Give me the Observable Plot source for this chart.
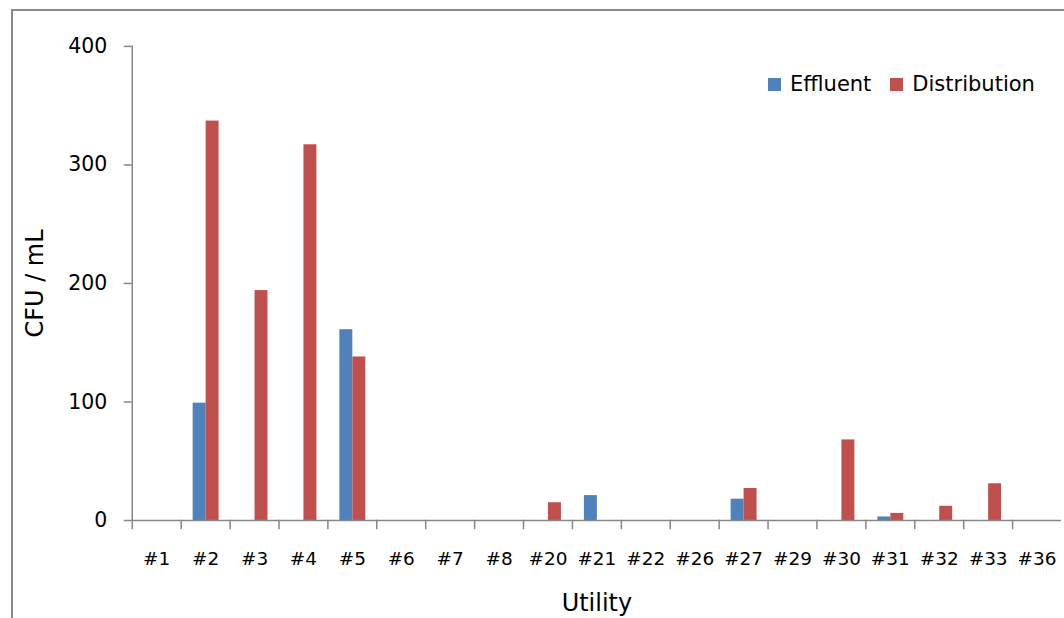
<!DOCTYPE html>
<html>
<head>
<meta charset="utf-8">
<script src="https://cdn.jsdelivr.net/npm/d3@7"></script>
<script src="https://cdn.jsdelivr.net/npm/@observablehq/plot@0.6"></script>
<style>
html,body{margin:0;padding:0;background:#fff;overflow:hidden;width:1064px;height:618px}
#wrap{position:relative;width:1064px;height:618px;overflow:hidden}
#border{position:absolute;left:11px;top:9px;width:1200px;height:800px;border:2px solid #8a8a8a;box-sizing:border-box}
#chart{position:absolute;left:0;top:0}
#legend{position:absolute;left:768px;top:72px;display:flex;align-items:center;font-family:"DejaVu Sans";font-size:21px;color:#000;line-height:24px}
#legend .item{display:flex;align-items:center;margin-right:19px}
#legend .sw{width:13px;height:13px;margin-right:9px}
</style>
</head>
<body>
<div id="wrap">
  <div id="border"></div>
  <div id="chart"></div>
  <div id="legend"></div>
</div>
<script>
const utilities = ["#1","#2","#3","#4","#5","#6","#7","#8","#20","#21","#22","#26","#27","#29","#30","#31","#32","#33","#36"];
const effluent     = [0, 99,   0,   0, 161, 0, 0, 0,  0, 21, 0, 0, 18, 0,  0, 3,  0,  0, 0];
const distribution = [0, 337, 194, 317, 138, 0, 0, 0, 15,  0, 0, 0, 27, 0, 68, 6, 12, 31, 0];
const series = ["Effluent", "Distribution"];
const colors = ["#4F81BD", "#C0504D"];
const yTicks = [0, 100, 200, 300, 400];

const rows = utilities.flatMap((u, i) => [
  {utility: u, series: series[0], value: effluent[i]},
  {utility: u, series: series[1], value: distribution[i]}
]);

const grey = "#868686";

const chart = Plot.plot({
  width: 1066,
  height: 618,
  marginLeft: 129,
  marginRight: 0,
  marginTop: 46,
  marginBottom: 97,
  style: {fontFamily: "DejaVu Sans", color: "#000", background: "transparent", overflow: "visible"},
  fx: {domain: utilities, padding: 0},
  x: {domain: series, axis: null, paddingInner: 0, paddingOuter: 0.76},
  y: {domain: [0, 400], axis: null},
  color: {domain: series, range: colors},
  marks: [
    Plot.barY(rows, {fx: "utility", x: "series", y: "value", fill: "series"}),
    Plot.ruleY([0], {stroke: grey, strokeWidth: 1.5}),
    Plot.frame({anchor: "left", facetAnchor: "left", stroke: grey, strokeWidth: 1.5}),
    Plot.frame({anchor: "left", insetTop: 475, insetBottom: -8, stroke: grey, strokeWidth: 1.5}),
    Plot.axisY({ticks: yTicks, tickSize: 8, tickPadding: 17, fontSize: 20.5, stroke: grey, strokeWidth: 1.5, label: null}),
    Plot.axisY({ticks: [], label: "CFU / mL", labelArrow: "none", labelAnchor: "center", labelOffset: 106, fontSize: 24}),
    Plot.axisFx({anchor: "bottom", tickSize: 0, tickPadding: 31, fontSize: 18.5, label: null}),
    Plot.axisFx({anchor: "bottom", ticks: [], label: "Utility", labelArrow: "none", labelAnchor: "center", labelOffset: 91, fontSize: 24})
  ]
});
document.getElementById("chart").appendChild(chart);

const legend = document.getElementById("legend");
series.forEach((s, i) => {
  const item = document.createElement("div");
  item.className = "item";
  const sw = document.createElement("div");
  sw.className = "sw";
  sw.style.background = colors[i];
  const t = document.createElement("span");
  t.textContent = s;
  item.appendChild(sw);
  item.appendChild(t);
  legend.appendChild(item);
});
</script>
</body>
</html>
